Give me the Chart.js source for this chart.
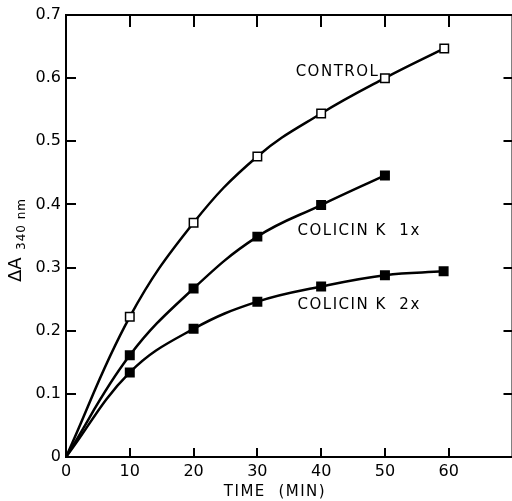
<!DOCTYPE html>
<html>
<head>
<meta charset="utf-8">
<script src="https://cdn.jsdelivr.net/npm/chart.js@4.4.1/dist/chart.umd.min.js"></script>
<style>
  html, body { margin: 0; padding: 0; background: #fff; overflow: hidden; }
  #wrap { width: 520px; height: 501px; }
</style>
</head>
<body>
<div id="wrap"><canvas id="myChart"></canvas></div>
<script>
// ---- data ----
const controlTime = [0, 10, 20, 30, 40, 50, 59.3];
const controlA = [0, 0.222, 0.371, 0.476, 0.544, 0.600, 0.647];
const colicin1xTime = [0, 10, 20, 30, 40, 50];
const colicin1xA = [0, 0.161, 0.267, 0.349, 0.399, 0.446];
const colicin2xTime = [0, 10, 20, 30, 40, 50, 59.2];
const colicin2xA = [0, 0.134, 0.203, 0.246, 0.270, 0.288, 0.294];
const xTicks = [0, 10, 20, 30, 40, 50, 60];
const yTicks = [0, 0.1, 0.2, 0.3, 0.4, 0.5, 0.6, 0.7];
const curveLabels = [
  { text: "CONTROL", x: 36, y: 0.61 },
  { text: "COLICIN K  1x", x: 36.3, y: 0.357 },
  { text: "COLICIN K  2x", x: 36.3, y: 0.24 },
];

const toPoints = (xs, ys) => xs.map((x, i) => ({ x: x, y: ys[i] }));
const FONT = "'DejaVu Sans', sans-serif";

// inward ticks, frame, curve labels and axis titles
const decor = {
  id: "decor",
  afterDraw(chart) {
    const { ctx, chartArea: a, scales } = chart;
    const xs = scales.x, ys = scales.y;
    ctx.save();
    ctx.strokeStyle = "#000";
    ctx.lineWidth = 2;
    ctx.strokeRect(a.left, a.top, a.right - a.left, a.bottom - a.top);
    ctx.fillStyle = "#000";
    xTicks.slice(1).forEach(v => {
      const px = Math.round(xs.getPixelForValue(v));
      ctx.fillRect(px - 1, a.bottom - 9, 2, 9);
      ctx.fillRect(px - 1, a.top, 2, 12);
    });
    yTicks.slice(1, -1).forEach(v => {
      const py = Math.round(ys.getPixelForValue(v));
      ctx.fillRect(a.left, py - 1, 10, 2);
      ctx.fillRect(a.right - 9, py - 1, 9, 2);
    });

    ctx.font = "15px " + FONT;
    ctx.letterSpacing = "1.5px";
    ctx.textBaseline = "middle";
    ctx.textAlign = "left";
    curveLabels.forEach(l => {
      ctx.fillText(l.text, xs.getPixelForValue(l.x), ys.getPixelForValue(l.y));
    });

    ctx.textAlign = "center";
    ctx.fillText("TIME  (MIN)", 275, 492);

    ctx.translate(16, 238);
    ctx.rotate(-Math.PI / 2);
    ctx.letterSpacing = "0px";
    ctx.textAlign = "left";
    ctx.font = "18px " + FONT;
    ctx.fillText("\u0394A", -44, 0);
    ctx.font = "12px " + FONT;
    ctx.letterSpacing = "1px";
    ctx.fillText("340 nm", -12, 6);
    ctx.restore();
  }
};

const markerRadius = c => (c.dataIndex === 0 ? 0 : 6);

const seriesStyle = fill => ({
  borderColor: "#000",
  borderWidth: 2.5,
  tension: 0.4,
  pointStyle: "rect",
  pointRadius: markerRadius,
  pointBackgroundColor: fill,
  pointBorderColor: "#000",
  pointBorderWidth: 1.5,
});

document.addEventListener("DOMContentLoaded", () => {
  const ctx = document.getElementById("myChart");
  new Chart(ctx, {
    type: "line",
    data: {
      datasets: [
        { label: "Control", data: toPoints(controlTime, controlA), ...seriesStyle("#fff") },
        { label: "Colicin K 1x", data: toPoints(colicin1xTime, colicin1xA), ...seriesStyle("#000") },
        { label: "Colicin K 2x", data: toPoints(colicin2xTime, colicin2xA), ...seriesStyle("#000") },
      ],
    },
    options: {
      responsive: true,
      maintainAspectRatio: false,
      animation: false,
      layout: { padding: { top: 15, right: 3, left: 0, bottom: 0 } },
      plugins: { legend: { display: false }, tooltip: { enabled: false } },
      scales: {
        x: {
          type: "linear",
          min: 0,
          max: 70,
          afterFit: s => { s.height = 44; },
          afterBuildTicks: s => { s.ticks = xTicks.map(v => ({ value: v })); },
          grid: { display: false, drawTicks: false },
          border: { display: false },
          ticks: { color: "#000", font: { family: FONT, size: 16 }, padding: 5 },
        },
        y: {
          min: 0,
          max: 0.7,
          afterFit: s => { s.width = 66; },
          afterBuildTicks: s => { s.ticks = yTicks.map(v => ({ value: v })); },
          grid: { display: false, drawTicks: false },
          border: { display: false },
          ticks: {
            color: "#000",
            font: { family: FONT, size: 16 },
            padding: 5,
            callback: v => (v === 0 ? "0" : v.toFixed(1)),
          },
        },
      },
    },
    plugins: [decor],
  });
});
</script>
</body>
</html>
